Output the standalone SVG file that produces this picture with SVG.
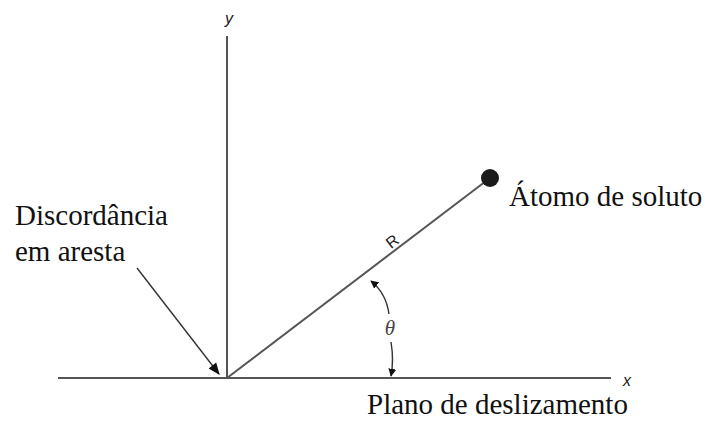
<svg xmlns="http://www.w3.org/2000/svg" width="707" height="426" viewBox="0 0 707 426">
<defs>
<style>
.ax{stroke:#555;stroke-width:2;fill:none}
.thin{stroke:#333;stroke-width:1.4;fill:none}
.serif{font-family:"Liberation Serif","Times New Roman",serif;font-size:29px;fill:#111}
.sans{font-family:"Liberation Sans",Arial,sans-serif;font-size:16px;fill:#222}
</style>
<marker id="ah" viewBox="0 0 10 10" refX="9" refY="5" markerWidth="8" markerHeight="8" orient="auto" markerUnits="userSpaceOnUse">
<path d="M0,0 L10,5 L0,10 z" fill="#111"/>
</marker>
<marker id="ah2" viewBox="0 0 10 10" refX="9" refY="5" markerWidth="14" markerHeight="12" orient="auto" markerUnits="userSpaceOnUse">
<path d="M0,1 L10,5 L0,9 z" fill="#111"/>
</marker>
</defs>
<rect width="707" height="426" fill="#fff"/>
<g id="axes">
<line class="ax" x1="227" y1="36" x2="227" y2="378"/>
<line class="ax" x1="58" y1="378" x2="611" y2="378"/>
<text class="sans" x="229" y="24" font-style="italic" text-anchor="middle">y</text>
<text class="sans" x="627" y="386" font-style="italic" text-anchor="middle">x</text>
</g>
<g id="connectors">
<line class="ax" x1="227" y1="378" x2="490" y2="178"/>
<line class="thin" x1="137" y1="268" x2="219" y2="374" marker-end="url(#ah2)"/>
<path class="thin" d="M389,314 Q386,293 371,281" marker-end="url(#ah)"/>
<path class="thin" d="M391,342 Q394,360 391,376" marker-end="url(#ah)"/>
</g>
<g id="atom">
<circle cx="490" cy="178" r="9" fill="#1a1a1a"/>
<text class="serif" x="509" y="206">Átomo de soluto</text>
</g>
<g id="dislocation">
<text class="serif" x="15" y="225">Discordância</text>
<text class="serif" x="15" y="261">em aresta</text>
</g>
<g id="labels">
<text class="sans" x="392" y="247" text-anchor="middle" font-size="17" transform="rotate(-37 392 241)">R</text>
<text x="390" y="335" text-anchor="middle" font-family="Liberation Serif,serif" font-style="italic" font-size="21" fill="#444">θ</text>
<text class="serif" x="367" y="414">Plano de deslizamento</text>
</g>
</svg>
